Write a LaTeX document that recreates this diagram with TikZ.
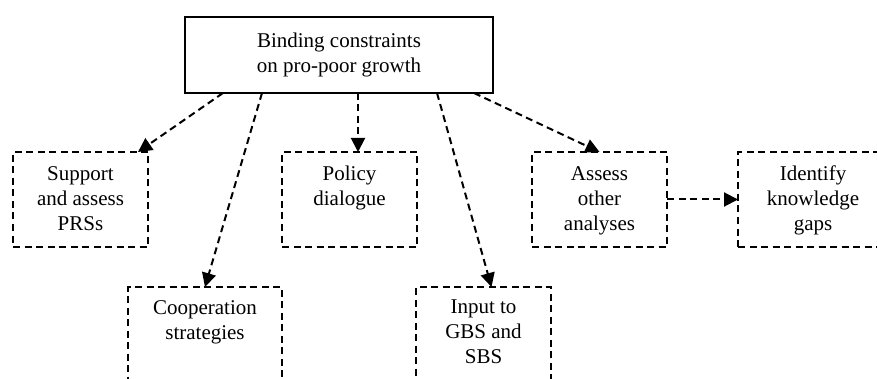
\documentclass[tikz,border=0pt]{standalone}
\usepackage{fontspec}
\setmainfont{Liberation Serif}
\usetikzlibrary{arrows.meta}
\begin{document}
\begin{tikzpicture}[x=1pt,y=-1pt,
  dbox/.style={draw, dashed, dash pattern=on 7pt off 4.5pt, line width=2pt, minimum width=135pt, minimum height=95pt, inner sep=0pt, outer sep=0pt},
  mainbox/.style={draw, line width=1.5pt, minimum width=308pt, minimum height=76pt, inner sep=0pt, outer sep=0pt, align=center, font=\fontsize{21}{25}\selectfont},
  txt/.style={anchor=north, inner sep=0pt, align=center, font=\fontsize{21}{25}\selectfont},
  conn/.style={dashed, dash pattern=on 7pt off 4.5pt, line width=2pt, -{Triangle[length=14pt,width=14pt]}}
]
\useasboundingbox (0,0) rectangle (877,379);
\clip (0,0) rectangle (877,379);
\node[mainbox] (main) at (339,55) {Binding constraints\\on pro-poor growth};
\node[dbox] (sup) at (80.5,199.5) {};
\node[dbox] (pol) at (349.5,199.5) {};
\node[dbox] (ass) at (599.5,199.5) {};
\node[dbox, minimum width=150pt] (ide) at (813,199.5) {};
\node[dbox, minimum width=154pt, minimum height=120pt] (coop) at (205,347) {};
\node[dbox, minimum height=120pt] (inp) at (483.5,347) {};
\node[txt] (supt) at ([yshift=-14pt]sup.north) {Support\\and assess\\PRSs};
\node[txt] (polt) at ([yshift=-14pt]pol.north) {Policy\\dialogue};
\node[txt] (asst) at ([yshift=-14pt]ass.north) {Assess\\other\\analyses};
\node[txt] (idet) at ([yshift=-14pt]ide.north) {Identify\\knowledge\\gaps};
\node[txt] (coopt) at ([yshift=-13pt]coop.north) {Cooperation\\strategies};
\node[txt] (inpt) at ([yshift=-13pt]inp.north) {Input to\\GBS and\\SBS};
\draw[conn] ([xshift=-116pt]main.south) -- ([xshift=-10pt]sup.north east);
\draw[conn] ([xshift=-77pt]main.south) -- (coop.north);
\draw[conn] ([xshift=19pt]main.south) -- ([xshift=8.5pt]pol.north);
\draw[conn] ([xshift=98pt]main.south) -- ([xshift=8pt]inp.north);
\draw[conn] ([xshift=135pt]main.south) -- (ass.north);
\draw[conn] (ass.east) -- (ide.west);
\end{tikzpicture}
\end{document}
